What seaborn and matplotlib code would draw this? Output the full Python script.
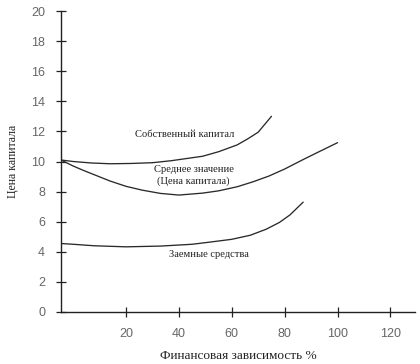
import matplotlib
matplotlib.use("Agg")
import matplotlib.pyplot as plt
import seaborn as sns
import pandas as pd

# ---- data ----
x_own = [-4.6, 0, 7, 14, 22, 30, 37, 43, 49, 55, 62, 66, 70, 75]
y_own = [10.1, 10.0, 9.9, 9.85, 9.87, 9.92, 10.05, 10.2, 10.35, 10.65, 11.1, 11.5, 11.95, 13.0]

x_avg = [-4.6, 0, 4, 8, 14, 20, 26, 33, 40, 49, 55, 62, 68, 74, 80, 87, 93, 100]
y_avg = [10.1, 9.7, 9.4, 9.12, 8.7, 8.35, 8.1, 7.88, 7.77, 7.9, 8.05, 8.32, 8.65, 9.03, 9.5, 10.13, 10.65, 11.25]

x_debt = [-4.6, 0, 8, 20, 33, 45, 52, 60, 67, 73, 78, 82, 87]
y_debt = [4.55, 4.5, 4.4, 4.33, 4.38, 4.5, 4.65, 4.83, 5.1, 5.5, 5.95, 6.45, 7.3]

series_names = ["Собственный капитал", "Среднее значение", "Заемные средства"]
x_ticks = [20, 40, 60, 80, 100, 120]
y_ticks = [0, 2, 4, 6, 8, 10, 12, 14, 16, 18, 20]
x_label = "Финансовая зависимость %"
y_label = "Цена капитала"

sns.set_style("ticks")
plt.rcParams["font.family"] = ["Liberation Serif", "DejaVu Serif"]

fig = plt.figure(figsize=(4.2, 3.64), dpi=100)
ax = fig.add_axes([61 / 420, 1 - 312 / 364, 354 / 420, 301 / 364])

df = pd.concat([
    pd.DataFrame({"x": x_own, "y": y_own, "s": series_names[0]}),
    pd.DataFrame({"x": x_avg, "y": y_avg, "s": series_names[1]}),
    pd.DataFrame({"x": x_debt, "y": y_debt, "s": series_names[2]}),
])
sns.lineplot(data=df, x="x", y="y", units="s", estimator=None, sort=False,
             color="#2a2a2a", linewidth=0.95, ax=ax, legend=False)

ax.set_xlim(-4.6, 129.3)
ax.set_ylim(0, 20)
ax.set_xticks(x_ticks)
ax.set_yticks(y_ticks)
sns.despine(ax=ax)
for sp in ["left", "bottom"]:
    ax.spines[sp].set_color("#222222")
    ax.spines[sp].set_linewidth(1.0)

ax.tick_params(axis="both", direction="inout", length=7, width=0.9, color="#222222",
               labelsize=9, labelcolor="#666666")
ax.tick_params(axis="y", pad=8)
ax.tick_params(axis="x", pad=8)
for lab in ax.get_xticklabels() + ax.get_yticklabels():
    lab.set_family(["Liberation Sans", "DejaVu Sans"])

ax.set_xlabel(x_label, fontsize=9.6, color="#222222", labelpad=7)
ax.set_ylabel(y_label, fontsize=8.5, color="#222222", labelpad=9)

tk = dict(fontsize=7.6, color="#222222", ha="center", va="center")
ax.text(42.3, 11.8, "Собственный капитал", **tk)
ax.text(45.5, 9.5, "Среднее значение", **tk)
ax.text(45.5, 8.7, "(Цена капитала)", **tk)
ax.text(51.4, 3.84, "Заемные средства", **tk)

fig.savefig("out.png", dpi=100)
